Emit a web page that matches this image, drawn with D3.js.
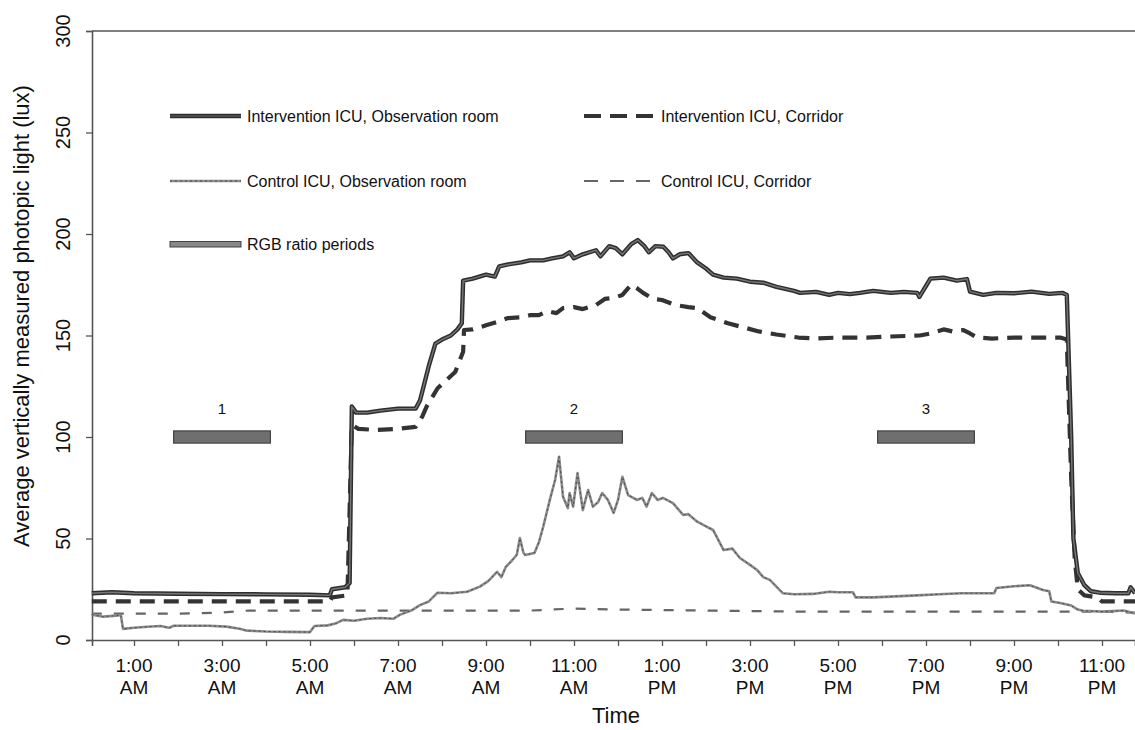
<!DOCTYPE html>
<html><head><meta charset="utf-8">
<script src="https://cdn.jsdelivr.net/npm/d3@7"></script>
<style>
html,body{margin:0;padding:0;background:#fff;}
svg{display:block;font-family:"Liberation Sans",Arial,Helvetica,sans-serif;}
</style></head>
<body><svg id="chart" width="1135" height="730"></svg>
<script>
// ---- data ----
const yTicks = [0, 50, 100, 150, 200, 250, 300];
const hourTicks = [1,2,3,4,5,6,7,8,9,10,11,12,13,14,15,16,17,18,19,20,21,22,23];
const labelHours = [1,3,5,7,9,11,13,15,17,19,21,23];
const labelTimes = ["1:00","3:00","5:00","7:00","9:00","11:00","1:00","3:00","5:00","7:00","9:00","11:00"];
const labelAmPm = ["AM","AM","AM","AM","AM","AM","PM","PM","PM","PM","PM","PM"];

const seriesNames = ["Intervention ICU, Observation room","Intervention ICU, Corridor","Control ICU, Observation room","Control ICU, Corridor","RGB ratio periods"];

const intObsTime = [0.04,0.5,1,2,3,4,5,5.45,5.5,5.8,5.9,5.95,6.05,6.3,6.6,7.0,7.4,7.5,7.7,7.85,8.0,8.2,8.35,8.45,8.48,8.7,9.0,9.2,9.3,9.5,9.8,10.0,10.3,10.5,10.75,10.9,11.0,11.2,11.5,11.6,11.8,11.95,12.1,12.3,12.45,12.6,12.7,12.85,13.03,13.15,13.25,13.4,13.6,13.8,14.0,14.16,14.4,14.7,15.0,15.3,15.6,16.0,16.14,16.5,16.8,17.0,17.27,17.5,17.8,18.2,18.5,18.8,18.85,19.1,19.4,19.7,19.93,20.0,20.3,20.6,21.0,21.4,21.8,22.1,22.2,22.3,22.35,22.45,22.6,22.75,22.95,23.3,23.6,23.65,23.75];
const intObsLux  = [23,23.5,23,22.8,22.6,22.5,22.3,22,25,26,28,115,112,112,113,114,114,118,135,146,148,150,153,156,177,178,180,179,184,185,186,187,187,188,189,191,188,190,192,189,194,193,190,195,197,194,191,194,193.7,191,188,190,190.6,186,183,180,178.5,178,176.5,176,174,172,171,171.5,170,171,170.4,171,172,171,171.5,171,169,178,178.5,177,177.8,171.6,170,171,170.8,171.6,170.5,171,170,100,50,33,27,24,23.3,23,23,26,23];

const intCorTime = [0.04,1,2,3,4,5,5.45,5.5,5.85,5.95,6.1,6.5,7.0,7.4,7.55,7.65,7.9,8.1,8.3,8.48,8.5,8.7,9.0,9.3,9.5,9.8,10.0,10.2,10.4,10.6,10.75,11.0,11.2,11.5,11.7,11.9,12.1,12.3,12.45,12.57,12.8,13.0,13.3,13.6,13.8,14.1,14.5,14.85,15.2,15.6,16.1,16.5,17.0,17.65,18.2,18.86,19.1,19.4,19.6,19.85,20.0,20.16,20.5,21.0,21.5,22.05,22.2,22.3,22.38,22.45,22.6,22.9,23.0,23.75];
const intCorLux  = [19,19,19,19,19,19,19,21,22,106,104,103.5,104,105,110,115,124,128,132,142,152.7,153,155,157,158.6,159,160,160,162,161,163.5,164,163,165,168,168.5,170,175,173,171,168,167.5,165,164,163.5,159,156,154,152,150.5,149,148.5,149,149,149.5,150,151,153,152,152.7,151,149,148.5,149,149,149,148,80,40,25,22,21,19,19];

const ctlObsTime = [0.04,0.3,0.6,0.7,0.75,1.0,1.3,1.6,1.8,1.9,2.3,2.7,3.1,3.4,3.57,4.0,4.5,5.0,5.1,5.4,5.6,5.75,6.0,6.3,6.6,6.9,7.05,7.3,7.5,7.7,7.9,8.2,8.57,8.86,9.05,9.25,9.35,9.45,9.6,9.7,9.77,9.85,9.89,10.1,10.2,10.3,10.45,10.57,10.66,10.75,10.86,10.9,10.98,11.08,11.2,11.32,11.43,11.55,11.64,11.77,11.9,12.0,12.1,12.23,12.43,12.55,12.65,12.77,12.9,13.02,13.25,13.48,13.6,13.8,14.0,14.16,14.4,14.6,14.77,15.0,15.16,15.3,15.45,15.75,16.0,16.43,16.8,17.0,17.34,17.4,17.8,18.3,18.8,19.3,19.8,20.3,20.55,20.6,21.0,21.36,21.66,21.8,21.85,22.05,22.3,22.45,22.57,23.0,23.5,23.75];
const ctlObsLux  = [12.5,11.5,12,12.3,5.5,6,6.5,6.9,6,7,7,7,6.6,5.5,4.6,4.2,4,3.9,6.9,7.2,8.3,9.9,9.5,10.5,10.8,10.5,12.5,14.5,17.2,19,23.3,23,23.8,26.3,29,33.6,31,36,39.4,42,50.2,43,41.9,42.9,48,55.8,69,78.8,90.3,70.6,65,72.4,65.7,82.2,64,73.9,65.7,68,72.4,69,62.6,69,80.4,71.4,69,70,65.7,72.4,69,70,67.4,61.6,62,58.3,56,54.2,44.3,45,40.4,37,34.5,31,29.6,23,22.5,22.7,23.8,23.5,23.5,21,21,21.5,22,22.5,23,23,23,25.6,26.5,27,24.6,24,19,18.2,17,15,14.4,14,14.5,13];

const ctlCorTime = [0.04,1,2,3,3.6,4,6,8,10,11,12,14,16,18,20,21.5,22,23,23.75];
const ctlCorLux  = [13,13,13,13.5,14.5,14.5,14.5,14.5,14.5,15.5,15,14.5,14,14,14,14,14,14,13.5];

const rgbLabels = ["1","2","3"];
const rgbStart = [1.9, 9.9, 17.9];
const rgbEnd   = [4.1, 12.1, 20.1];
const rgbLow = 97, rgbHigh = 103;

// ---- drawing ----
const svg = d3.select("#chart");
const x = d3.scaleLinear().domain([0.045, 23.75]).range([92, 1135]);
const y = d3.scaleLinear().domain([0, 300]).range([640, 31]);

const axisColor = "#555";

// axes
svg.append("g").attr("transform","translate(0,640)")
  .call(d3.axisBottom(x).tickValues(hourTicks).tickSize(6).tickFormat(""))
  .call(g => g.select(".domain").attr("stroke", axisColor).attr("stroke-width",1.6))
  .call(g => g.selectAll(".tick line").attr("stroke", axisColor).attr("stroke-width",1.3));
svg.append("g").attr("transform","translate(92,0)")
  .call(d3.axisLeft(y).tickValues(yTicks).tickSize(6).tickFormat(""))
  .call(g => g.select(".domain").attr("stroke", axisColor).attr("stroke-width",1.6))
  .call(g => g.selectAll(".tick line").attr("stroke", axisColor).attr("stroke-width",1.3));
// top border
svg.append("line").attr("x1", x(0.045)).attr("x2", x(23.75)).attr("y1", y(300)).attr("y2", y(300))
  .attr("stroke", axisColor).attr("stroke-width",1.6);

// y tick labels (rotated)
svg.append("g").selectAll("text").data(yTicks).join("text")
  .attr("transform", d => `translate(70,${y(d)}) rotate(-90)`)
  .attr("text-anchor","middle").attr("font-size",20).attr("fill","#111")
  .text(d => d);

// x tick labels
const xl = svg.append("g").selectAll("text").data(labelHours).join("text")
  .attr("text-anchor","middle").attr("font-size",19).attr("fill","#111");
xl.append("tspan").attr("x", d => x(d)).attr("y", 672).text((d,i) => labelTimes[i]);
xl.append("tspan").attr("x", d => x(d)).attr("y", 694).text((d,i) => labelAmPm[i]);

// axis titles
svg.append("text").attr("transform", `translate(29,316) rotate(-90)`)
  .attr("text-anchor","middle").attr("font-size",22).attr("fill","#111")
  .text("Average vertically measured photopic light (lux)");
svg.append("text").attr("x", 616).attr("y", 723).attr("text-anchor","middle")
  .attr("font-size",22).attr("fill","#111").text("Time");

// RGB bars
const rgb = svg.append("g");
rgb.selectAll("rect").data(rgbStart).join("rect")
  .attr("x", d => x(d)).attr("width", (d,i) => x(rgbEnd[i]) - x(d))
  .attr("y", y(rgbHigh)).attr("height", y(rgbLow) - y(rgbHigh))
  .attr("fill","#6f6f6f").attr("stroke","#444").attr("stroke-width",1.2);
rgb.selectAll("text").data(rgbStart).join("text")
  .attr("x", (d,i) => (x(d) + x(rgbEnd[i]))/2).attr("y", 414)
  .attr("text-anchor","middle").attr("font-size",15).attr("fill","#111")
  .text((d,i) => rgbLabels[i]);

const line = d3.line().x(d => x(d[0])).y(d => y(d[1]));
const zip = (t, v) => t.map((h,i) => [h, v[i]]);

// control corridor
svg.append("path").datum(zip(ctlCorTime, ctlCorLux)).attr("d", line)
  .attr("fill","none").attr("stroke","#666").attr("stroke-width",2.2).attr("stroke-dasharray","10,12");
// control observation
svg.append("path").datum(zip(ctlObsTime, ctlObsLux)).attr("d", line)
  .attr("fill","none").attr("stroke","#8a8a8a").attr("stroke-width",2.6).attr("stroke-linejoin","round");
svg.append("path").datum(zip(ctlObsTime, ctlObsLux)).attr("d", line)
  .attr("fill","none").attr("stroke","#4a4a4a").attr("stroke-width",1).attr("stroke-dasharray","2,3");
// intervention corridor
svg.append("path").datum(zip(intCorTime, intCorLux)).attr("d", line)
  .attr("fill","none").attr("stroke","#333").attr("stroke-width",4.2).attr("stroke-dasharray","15,9")
  .attr("stroke-linejoin","round");
// intervention observation
svg.append("path").datum(zip(intObsTime, intObsLux)).attr("d", line)
  .attr("fill","none").attr("stroke","#2e2e2e").attr("stroke-width",4.4).attr("stroke-linejoin","round");
svg.append("path").datum(zip(intObsTime, intObsLux)).attr("d", line)
  .attr("fill","none").attr("stroke","#777").attr("stroke-width",1.4).attr("stroke-linejoin","round");

// legend
const lg = svg.append("g").attr("font-size",16).attr("fill","#111");
function legendLine(x1, yy, stroke, width, dash, inner) {
  lg.append("line").attr("x1", x1).attr("x2", x1 + 71).attr("y1", yy).attr("y2", yy)
    .attr("stroke", stroke).attr("stroke-width", width).attr("stroke-dasharray", dash || null);
  if (inner) lg.append("line").attr("x1", x1).attr("x2", x1 + 71).attr("y1", yy).attr("y2", yy)
    .attr("stroke", inner).attr("stroke-width", 1.2);
}
legendLine(170, 116, "#2e2e2e", 4.4, null, "#666");
lg.append("text").attr("x",247).attr("y",122).text(seriesNames[0]);
legendLine(584, 116, "#333", 4.2, "17,9");
lg.append("text").attr("x",661).attr("y",122).text(seriesNames[1]);
legendLine(170, 181, "#8a8a8a", 2.4, null);
lg.append("line").attr("x1",170).attr("x2",241).attr("y1",181).attr("y2",181)
  .attr("stroke","#4a4a4a").attr("stroke-width",1).attr("stroke-dasharray","2,3");
lg.append("text").attr("x",247).attr("y",187).text(seriesNames[2]);
legendLine(584, 181, "#666", 2.2, "14,12");
lg.append("text").attr("x",661).attr("y",187).text(seriesNames[3]);
lg.append("rect").attr("x",170).attr("y",241.5).attr("width",71).attr("height",5.5)
  .attr("fill","#888").attr("stroke","#444").attr("stroke-width",1);
lg.append("text").attr("x",247).attr("y",250).text(seriesNames[4]);
</script></body></html>
